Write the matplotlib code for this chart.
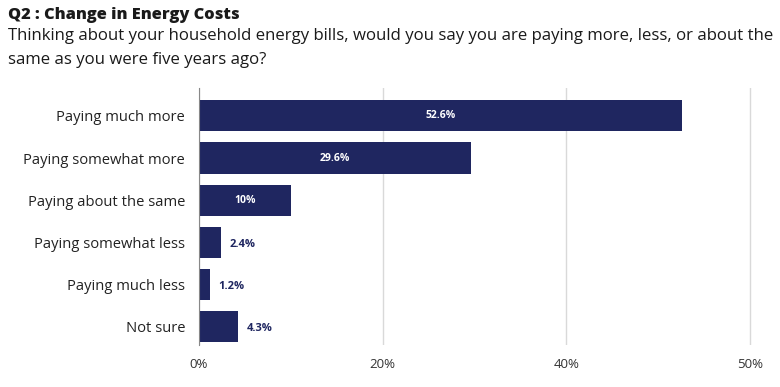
import matplotlib
matplotlib.use("Agg")
import matplotlib.pyplot as plt

categories = ["Paying much more", "Paying somewhat more", "Paying about the same",
              "Paying somewhat less", "Paying much less", "Not sure"]
values = [52.6, 29.6, 10.0, 2.4, 1.2, 4.3]
labels = ["52.6%", "29.6%", "10%", "2.4%", "1.2%", "4.3%"]
tick_pos = [0, 20, 40, 60]
tick_labels = ["0%", "20%", "40%", "50%"]

NAVY = "#1f2660"
plt.rcParams["font.family"] = ["Open Sans", "DejaVu Sans"]

fig = plt.figure(figsize=(7.8, 3.87), dpi=100)
ax = fig.add_axes([0.2551, 0.1085, 0.964 - 0.2551, 0.7726 - 0.1085])

y = list(range(len(categories)))
ax.barh(y, values, height=0.74, color=NAVY, zorder=3)
for yi, v, lab in zip(y, values, labels):
    if v > 8:
        ax.text(v / 2, yi, lab, ha="center", va="center", color="white",
                fontsize=7.5, fontweight="bold", zorder=4)
    else:
        ax.text(v + 0.9, yi + 0.05, lab, ha="left", va="center", color=NAVY,
                fontsize=8, fontweight="bold", zorder=4)

ax.set_ylim(5.43, -0.66)
ax.set_xlim(0, 60.2)
ax.set_yticks(y)
ax.set_yticklabels(categories, fontsize=10.6, color="#222222")
ax.set_xticks(tick_pos)
ax.set_xticklabels(tick_labels, fontsize=9.5, color="#333333")
ax.tick_params(length=0, pad=9)
ax.tick_params(axis="y", pad=10)
ax.grid(axis="x", color="#d9d9d9", lw=1, zorder=0)
for s in ["top", "right", "bottom"]:
    ax.spines[s].set_visible(False)
ax.spines["left"].set_color("#888888")
ax.spines["left"].set_zorder(5)

fig.text(8 / 780, 1 - 15 / 387, "Q2 : Change in Energy Costs", fontsize=11.8,
         fontweight="heavy", va="center", ha="left", color="#1a1a1a")
fig.text(8 / 780, 1 - 36 / 387,
         "Thinking about your household energy bills, would you say you are paying more, less, or about the",
         fontsize=12.1, va="center", ha="left", color="#1a1a1a")
fig.text(8 / 780, 1 - 60 / 387, "same as you were five years ago?",
         fontsize=12.1, va="center", ha="left", color="#1a1a1a")

fig.savefig("out.png", dpi=100)
